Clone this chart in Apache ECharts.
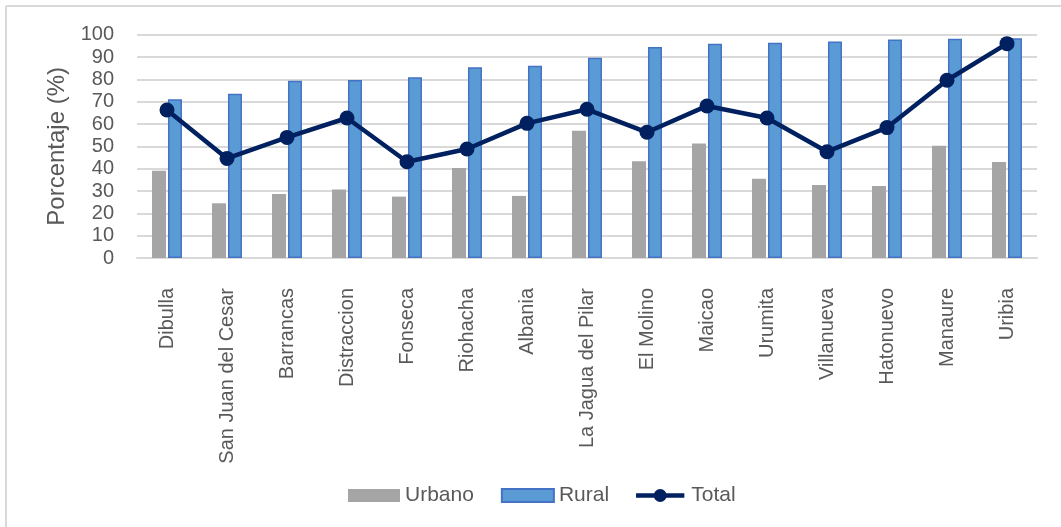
<!DOCTYPE html>
<html>
<head>
<meta charset="utf-8">
<script src="https://cdn.jsdelivr.net/npm/echarts@6/dist/echarts.min.js"></script>
<style>
html,body{margin:0;padding:0;background:#fff;}
#chart{width:1061px;height:527px;}
</style>
</head>
<body>
<div id="chart"></div>
<script>
var categories = ["Dibulla","San Juan del Cesar","Barrancas","Distraccion","Fonseca","Riohacha","Albania","La Jagua del Pilar","El Molino","Maicao","Urumita","Villanueva","Hatonuevo","Manaure","Uribia"];
var urbano = [39.1, 24.5, 28.7, 30.7, 27.5, 40.3, 27.8, 57.0, 43.3, 51.3, 35.5, 32.7, 32.2, 50.3, 43.0];
var rural = [71.1, 73.6, 79.4, 79.7, 80.9, 85.4, 86.1, 89.7, 94.5, 96.0, 96.4, 96.9, 97.9, 98.2, 98.4];
var total = [66.3, 44.6, 54.0, 62.7, 43.1, 48.8, 60.3, 66.6, 56.3, 68.1, 62.7, 47.6, 58.4, 79.6, 96.0];
var yTicks = [0, 10, 20, 30, 40, 50, 60, 70, 80, 90, 100];

var FONT = "'Liberation Sans', Arial, sans-serif";
var TXT = "#595959";
var chart = echarts.init(document.getElementById('chart'), null, {renderer:'canvas'});
chart.setOption({
  backgroundColor: '#fff',
  animation: false,
  textStyle: {fontFamily: FONT},
  graphic: [
    {type:'line', shape:{x1:6, y1:6, x2:1061, y2:6}, style:{stroke:'#d9d9d9', lineWidth:2}, silent:true},
    {type:'line', shape:{x1:6, y1:6, x2:6, y2:527}, style:{stroke:'#d9d9d9', lineWidth:2}, silent:true}
  ],
  grid: {left:137, right:24, top:34.7, bottom:269, containLabel:false},
  legend: {
    left: 343, top: 480,
    itemWidth: 52, itemHeight: 13, itemGap: 27,
    textStyle: {fontSize:21, color:TXT, fontFamily:FONT},
    data: [
      {name:'Urbano', icon:'rect'},
      {name:'Rural', icon:'rect'},
      {name:'Total', icon:'path://M0,4.5h52v5h-52Z M19,7a7,7 0 1,1 14,0a7,7 0 1,1 -14,0Z',
       itemStyle:{color:'#002060', borderWidth:0}}
    ]
  },
  xAxis: {
    type:'category',
    data: categories,
    axisLine:{show:true, lineStyle:{color:'#d9d9d9', width:2}},
    axisTick:{show:false},
    axisLabel:{rotate:90, margin:30, fontSize:20, color:TXT, fontFamily:FONT, interval:0}
  },
  yAxis: {
    type:'value', min:yTicks[0], max:yTicks[yTicks.length-1], interval:10,
    name:'Porcentaje (%)', nameLocation:'middle', nameGap:67, nameRotate:90,
    nameTextStyle:{fontSize:24, color:TXT, fontFamily:FONT},
    axisLine:{show:false}, axisTick:{show:false},
    axisLabel:{fontSize:20, color:TXT, margin:23, fontFamily:FONT},
    splitLine:{lineStyle:{color:'#d9d9d9', width:2}}
  },
  series: [
    {name:'Urbano', type:'bar', data:urbano, barWidth:14, barGap:'14%',
     itemStyle:{color:'#A5A5A5'}},
    {name:'Rural', type:'bar', data:rural, barWidth:14,
     itemStyle:{color:'#5B9BD5', borderColor:'#4472C4', borderWidth:1.5}},
    {name:'Total', type:'line', data:total, symbol:'circle', symbolSize:15,
     lineStyle:{color:'#002060', width:4.5},
     itemStyle:{color:'#002060'}, z:5}
  ]
});
</script>
</body>
</html>
